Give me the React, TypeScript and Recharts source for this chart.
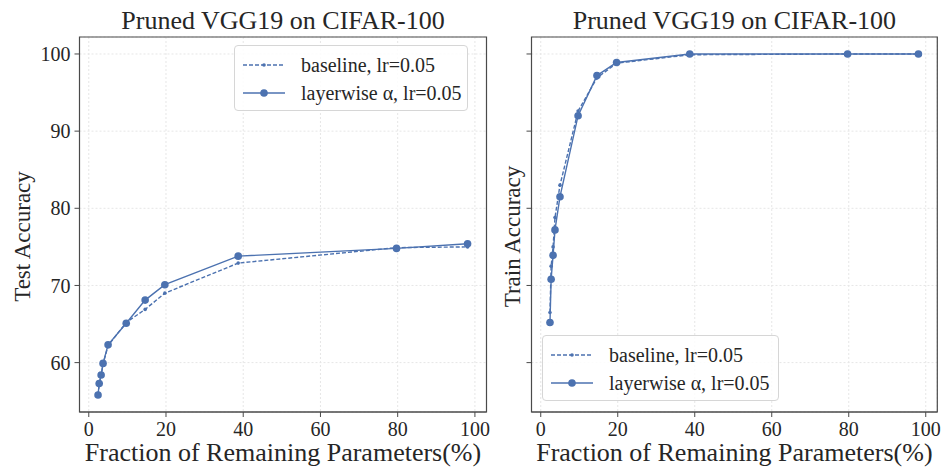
import React from 'react';
import { LineChart, Line, XAxis, YAxis, CartesianGrid, Legend, ReferenceArea } from 'recharts';

// fraction of remaining parameters (%), shared by both panels
const fractions = [2.4, 2.7, 3.2, 3.7, 5.0, 9.7, 14.6, 19.7, 38.7, 79.7, 98.1];

const testBaseline = [55.8, 57.2, 58.3, 59.8, 62.2, 65.2, 66.9, 69.0, 72.9, 74.9, 75.0];
const testLayerwise = [55.8, 57.3, 58.4, 59.9, 62.3, 65.1, 68.1, 70.1, 73.8, 74.8, 75.4];

const trainBaseline = [66.5, 72.5, 75.0, 78.8, 83.0, 92.6, 96.9, 98.8, 99.9, 100, 100];
const trainLayerwise = [65.2, 70.8, 73.9, 77.2, 81.5, 92.0, 97.2, 98.9, 100, 100, 100];

const xTicks = [0, 20, 40, 60, 80, 100];
const yTicks = [60, 70, 80, 90, 100];
const xDomain = [-2.4, 103];
const yDomain = [53.6, 102.2];

const TITLE = 'Pruned VGG19 on CIFAR-100';
const XLABEL = 'Fraction of Remaining Parameters(%)';
const BASELINE = 'baseline, lr=0.05';
const LAYERWISE = 'layerwise α, lr=0.05';

const BLUE = '#4c72b0';
const INK = '#262626';
const FRAME = '#4a4a4a';
const FONT = '"Liberation Serif", "Times New Roman", serif';

const toRows = (base: number[], layer: number[]) =>
  fractions.map((f, i) => ({ f, baseline: base[i], layerwise: layer[i] }));

function LegendBox({ payload, boxWidth }: any) {
  return (
    <div
      style={{
        width: boxWidth,
        height: 66,
        boxSizing: 'border-box',
        background: 'rgba(255,255,255,0.85)',
        border: '1px solid #d6d6d6',
        borderRadius: 4,
        padding: '5px 0 0 8px',
        fontFamily: FONT,
        fontSize: 20,
        color: INK,
      }}
    >
      {(payload || []).map((p: any) => {
        const dashed = p.value === BASELINE;
        return (
          <div key={p.value} style={{ display: 'flex', alignItems: 'center', height: 28 }}>
            <svg width={42} height={12} style={{ marginRight: 16 }}>
              <line
                x1={0}
                x2={42}
                y1={6}
                y2={6}
                stroke={BLUE}
                strokeWidth={1.4}
                strokeDasharray={dashed ? '4 2' : undefined}
              />
              <circle cx={21} cy={6} r={dashed ? 1.8 : 3.8} fill={BLUE} />
            </svg>
            <span style={{ whiteSpace: 'nowrap' }}>{p.value}</span>
          </div>
        );
      })}
    </div>
  );
}

interface PanelProps {
  rows: { f: number; baseline: number; layerwise: number }[];
  ylabel: string;
  showYLabels: boolean;
  yAxisWidth: number;
  rightMargin: number;
  ylabelX: number;
  legendLeft: number;
  legendTop: number;
  legendWidth: number;
}

function Panel(p: PanelProps) {
  return (
    <LineChart
      width={500}
      height={470}
      data={p.rows}
      margin={{ top: 37, right: p.rightMargin, bottom: 0, left: 0 }}
    >
      <CartesianGrid stroke="#e6e6e6" strokeDasharray="2 2" />
      <XAxis
        dataKey="f"
        type="number"
        domain={xDomain}
        ticks={xTicks}
        allowDataOverflow
        height={58}
        tickSize={5}
        tickMargin={5}
        stroke={FRAME}
        tick={{ fill: INK, fontSize: 20, fontFamily: FONT }}
        label={(lp: any) => {
          const vb = lp.viewBox;
          return (
            <text x={vb.x + vb.width / 2} y={vb.y + 49} textAnchor="middle" fill={INK} fontSize={26} fontFamily={FONT}>
              {XLABEL}
            </text>
          );
        }}
      />
      <YAxis
        type="number"
        domain={yDomain}
        ticks={yTicks}
        allowDataOverflow
        width={p.yAxisWidth}
        tickSize={5}
        tickMargin={4}
        stroke={FRAME}
        tick={{ fill: INK, fontSize: 20, fontFamily: FONT }}
        tickFormatter={(v: number) => (p.showYLabels ? String(v) : '')}
        label={(lp: any) => {
          const vb = lp.viewBox;
          const cx = vb.x + p.ylabelX;
          const cy = vb.y + vb.height / 2 + 12;
          return (
            <text
              x={cx}
              y={cy}
              textAnchor="middle"
              dominantBaseline="central"
              transform={`rotate(-90 ${cx} ${cy})`}
              fill={INK}
              fontSize={23}
              fontFamily={FONT}
            >
              {p.ylabel}
            </text>
          );
        }}
      />
      {/* axes frame + title */}
      <ReferenceArea
        x1={xDomain[0]}
        x2={xDomain[1]}
        y1={yDomain[0]}
        y2={yDomain[1]}
        fill="none"
        fillOpacity={0}
        stroke={FRAME}
        strokeWidth={1.2}
        ifOverflow="extendDomain"
        label={(lp: any) => {
          const vb = lp.viewBox;
          return (
            <text x={vb.x + vb.width / 2} y={vb.y - 8} textAnchor="middle" fill={INK} fontSize={26} fontFamily={FONT}>
              {TITLE}
            </text>
          );
        }}
      />
      <Legend
        layout="vertical"
        align="center"
        verticalAlign="middle"
        wrapperStyle={{ left: p.legendLeft, top: p.legendTop, width: p.legendWidth }}
        content={(lp: any) => <LegendBox payload={lp.payload} boxWidth={p.legendWidth} />}
      />
      <Line
        name={BASELINE}
        dataKey="baseline"
        stroke={BLUE}
        strokeWidth={1.4}
        strokeDasharray="4 2"
        dot={{ r: 1.8, fill: BLUE, stroke: BLUE, strokeWidth: 0 }}
        isAnimationActive={false}
      />
      <Line
        name={LAYERWISE}
        dataKey="layerwise"
        stroke={BLUE}
        strokeWidth={1.4}
        dot={{ r: 3.8, fill: BLUE, stroke: BLUE, strokeWidth: 0 }}
        isAnimationActive={false}
      />
    </LineChart>
  );
}

export default function App() {
  return (
    <div
      style={{
        position: 'absolute',
        left: 0,
        top: 0,
        width: 943,
        height: 470,
        background: '#fff',
        overflow: 'hidden',
        fontFamily: FONT,
      }}
    >
      <div style={{ position: 'absolute', left: 0, top: 0 }}>
        <Panel
          rows={toRows(testBaseline, testLayerwise)}
          ylabel="Test Accuracy"
          showYLabels
          yAxisWidth={79.5}
          rightMargin={13.5}
          ylabelX={22.5}
          legendLeft={234}
          legendTop={45}
          legendWidth={234}
        />
      </div>
      <div style={{ position: 'absolute', left: 443, top: 0 }}>
        <Panel
          rows={toRows(trainBaseline, trainLayerwise)}
          ylabel="Train Accuracy"
          showYLabels={false}
          yAxisWidth={88.5}
          rightMargin={5.7}
          ylabelX={69}
          legendLeft={99}
          legendTop={335}
          legendWidth={237}
        />
      </div>
    </div>
  );
}
